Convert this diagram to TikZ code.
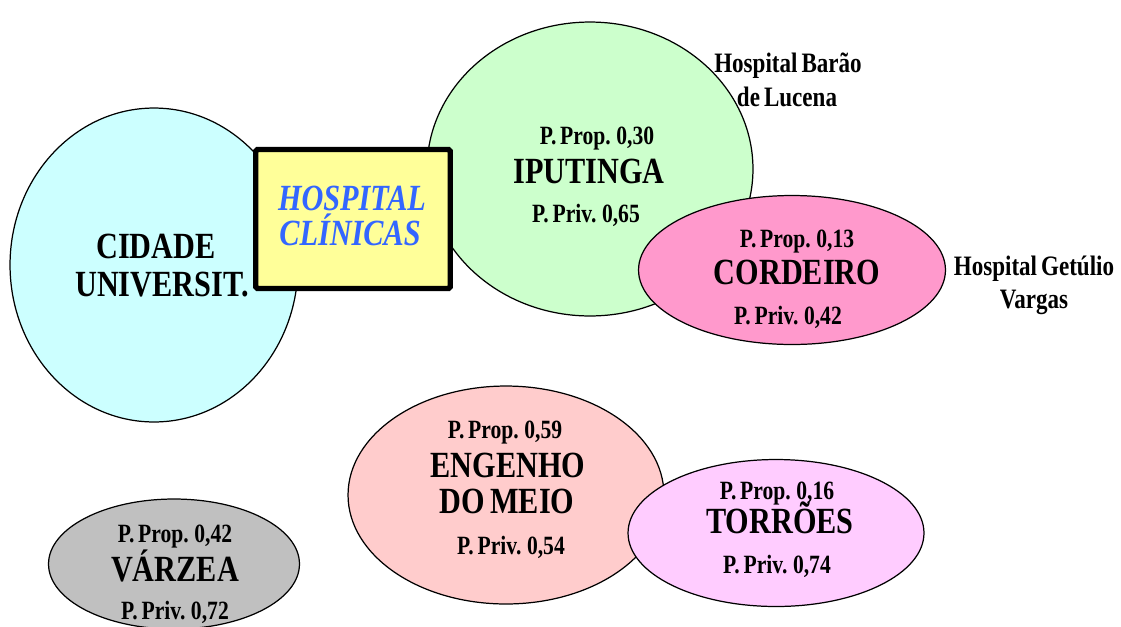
\documentclass[tikz,border=0pt]{standalone}
\usepackage{fontspec}
\setmainfont{Liberation Serif}[FakeStretch=0.82, WordSpace=0.7]
\usepackage{tikz}
\usetikzlibrary{shapes.geometric}

\definecolor{cidadecor}{HTML}{CCFFFF}
\definecolor{iputingacor}{HTML}{CCFFCC}
\definecolor{cordeirocor}{HTML}{FF99CC}
\definecolor{engenhocor}{HTML}{FFCCCC}
\definecolor{torroescor}{HTML}{FFCCFF}
\definecolor{varzeacor}{HTML}{C0C0C0}
\definecolor{hospcor}{HTML}{FFFF99}
\definecolor{hosptexto}{HTML}{3366FF}

\tikzset{
  zona/.style={draw, ellipse, inner sep=0pt, line width=0.7pt},
  bairro/.style={inner sep=0pt, text height=0.92em, text depth=0pt,
    font=\bfseries\fontsize{21}{23}\selectfont},
  indice/.style={inner sep=0pt, text height=0.92em, text depth=0pt,
    font=\bfseries\fontsize{15}{17}\selectfont},
  hosp/.style={inner sep=0pt, text height=0.88em, text depth=0pt,
    font=\bfseries\fontsize{16}{18}\selectfont}
}

\begin{document}
\begin{tikzpicture}[x=0.02cm, y=-0.02cm]
\useasboundingbox (0,0) rectangle (1121,626);

\node[zona, fill=cidadecor, minimum width=5.76cm, minimum height=6.28cm](cidade) at (154,265) {};
\node[zona, fill=iputingacor, minimum width=6.52cm, minimum height=5.88cm](iputinga) at (590,169) {};
\node[draw, rectangle, rounded corners=1pt, line width=3.1pt, fill=hospcor, minimum width=3.89cm, minimum height=2.78cm](clinicas) at (353,219) {};
\node[zona, fill=cordeirocor, minimum width=6.14cm, minimum height=2.98cm](cordeiro) at (792,270) {};
\node[zona, fill=engenhocor, minimum width=6.32cm, minimum height=4.36cm](engenho) at (506,495) {};
\node[zona, fill=torroescor, minimum width=5.92cm, minimum height=2.94cm](torroes) at (776,533) {};
\node[zona, fill=varzeacor, minimum width=5.02cm, minimum height=2.6cm](varzea) at (174,564) {};

\node[bairro](cidade_l1) at (156,250) {CIDADE};
\node[bairro](cidade_l2) at (162,288) {UNIVERSIT.};

\node[bairro, font=\bfseries\itshape\fontsize{21}{23}\selectfont, text=hosptexto](clinicas_l1) at (352,202) {HOSPITAL};
\node[bairro, font=\bfseries\itshape\fontsize{21}{23}\selectfont, text=hosptexto](clinicas_l2) at (350,237) {CLÍNICAS};

\node[indice](iputinga_prop) at (597,136) {P. Prop. 0,30};
\node[bairro](iputinga_nome) at (589,175) {IPUTINGA};
\node[indice](iputinga_priv) at (586,214) {P. Priv. 0,65};

\node[hosp](barao_l1) at (788,65) {Hospital Barão};
\node[hosp](barao_l2) at (787,99) {de Lucena};

\node[indice](cordeiro_prop) at (797,239) {P. Prop. 0,13};
\node[bairro](cordeiro_nome) at (797,276) {CORDEIRO};
\node[indice](cordeiro_priv) at (788,316) {P. Priv. 0,42};

\node[hosp](getulio_l1) at (1034,268) {Hospital Getúlio};
\node[hosp](getulio_l2) at (1034,301) {Vargas};

\node[indice](engenho_prop) at (505,430) {P. Prop. 0,59};
\node[bairro](engenho_l1) at (508,469) {ENGENHO};
\node[bairro](engenho_l2) at (507,505) {DO MEIO};
\node[indice](engenho_priv) at (511,546) {P. Priv. 0,54};

\node[indice](torroes_prop) at (777,491) {P. Prop. 0,16};
\node[bairro](torroes_nome) at (780,525) {TORRÕES};
\node[indice](torroes_priv) at (777,565) {P. Priv. 0,74};

\node[indice](varzea_prop) at (175,534) {P. Prop. 0,42};
\node[bairro](varzea_nome) at (175,573) {VÁRZEA};
\node[indice](varzea_priv) at (175,611) {P. Priv. 0,72};

\end{tikzpicture}
\end{document}
